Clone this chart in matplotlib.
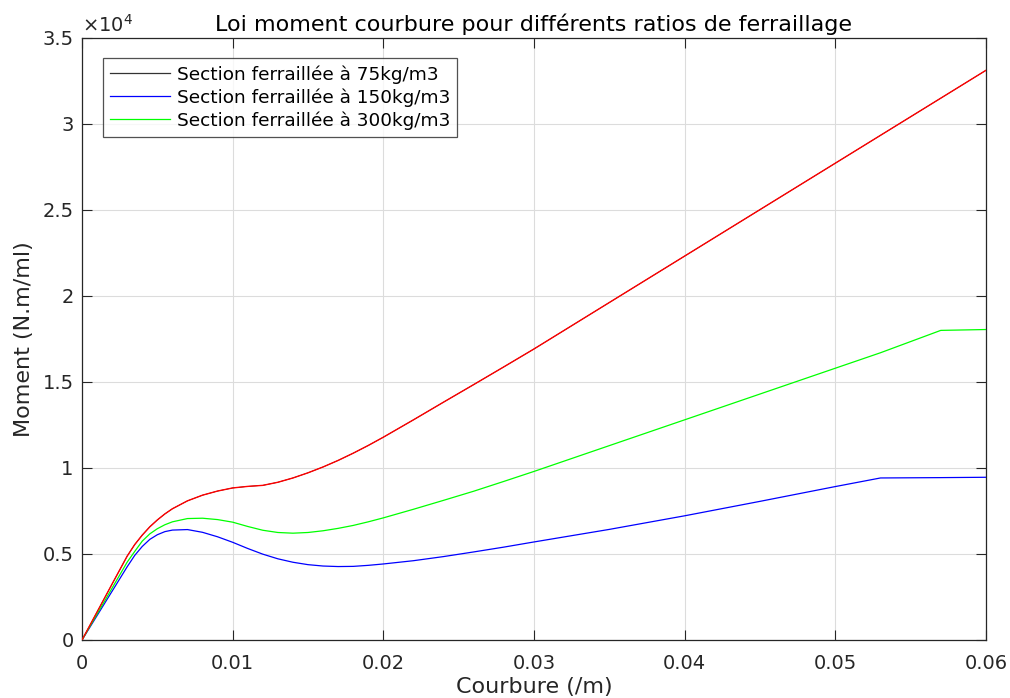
import matplotlib.pyplot as plt
from matplotlib.ticker import FuncFormatter
import numpy as np

# courbure (/m)
courbure = [0, 0.001, 0.002, 0.003, 0.0035, 0.004, 0.0045, 0.005, 0.0055, 0.006,
            0.007, 0.008, 0.009, 0.010, 0.011, 0.012, 0.013, 0.014, 0.015, 0.016,
            0.017, 0.018, 0.019, 0.020, 0.022, 0.024, 0.026, 0.028, 0.030, 0.035,
            0.040, 0.045, 0.050, 0.053, 0.057, 0.060]

# moments (N.m/ml)
m_75 = [0, 1630, 3260, 4880, 5550, 6100, 6580, 6980, 7330, 7630,
        8090, 8420, 8660, 8840, 8930, 8990, 9170, 9420, 9720, 10060,
        10440, 10860, 11310, 11790, 12800, 13830, 14850, 15880, 16920, 19620,
        22320, 25020, 27720, 29340, 31500, 33120]
m_150 = [0, 1420, 2840, 4260, 4920, 5440, 5850, 6120, 6300, 6390,
         6420, 6260, 6000, 5680, 5320, 4990, 4720, 4520, 4380, 4300,
         4270, 4280, 4340, 4420, 4610, 4850, 5120, 5400, 5700, 6430,
         7220, 8060, 8920, 9420, 9440, 9460]
m_300 = [0, 1510, 3020, 4530, 5150, 5750, 6170, 6470, 6700, 6870,
         7060, 7080, 7000, 6850, 6600, 6380, 6250, 6210, 6250, 6350,
         6490, 6660, 6870, 7100, 7600, 8120, 8650, 9220, 9800, 11300,
         12800, 14300, 15800, 16700, 18000, 18050]

labels = ['Section ferraillée à 75kg/m3', 'Section ferraillée à 150kg/m3',
          'Section ferraillée à 300kg/m3']

plt.rcParams['font.family'] = ['DejaVu Sans']

fig = plt.figure(figsize=(10.1, 6.98), dpi=100)
ax = fig.add_axes([0.0812, 0.0831, 0.8950, 0.8625])

# black curve lies under the red one
l1, = ax.plot(courbure, m_75, color='black', linewidth=0.5, zorder=2)
l2, = ax.plot(courbure, m_150, color='#0000ff', linewidth=0.9, zorder=3)
l3, = ax.plot(courbure, m_300, color='#00ff00', linewidth=0.9, zorder=3)
ax.plot(courbure, m_75, color='#ff0000', linewidth=1.0, zorder=4)

ax.set_xlim(0, 0.06)
ax.set_ylim(0, 35000)
ax.set_xticks(np.arange(0, 0.0601, 0.01))
ax.set_yticks(np.arange(0, 35001, 5000))
ax.xaxis.set_major_formatter(FuncFormatter(lambda v, p: '0' if v == 0 else f'{v:g}'))
ax.yaxis.set_major_formatter(FuncFormatter(lambda v, p: f'{v / 1e4:g}'))

ax.grid(True, color='#dcdcdc', linewidth=0.8)
ax.set_axisbelow(True)
ax.tick_params(direction='in', length=7, width=0.8, top=True, right=True,
               labelsize=14, colors='#262626', pad=6)
ax.tick_params(axis='x', pad=10)
for s in ax.spines.values():
    s.set_color('#262626')
    s.set_linewidth(0.9)

ax.text(0, 1.003, r'$\times10^{4}$', transform=ax.transAxes, fontsize=14,
        color='#262626', ha='left', va='bottom')

ax.set_title('Loi moment courbure pour différents ratios de ferraillage',
             fontsize=16, color='black', pad=5)
ax.set_xlabel('Courbure (/m)', fontsize=16, color='#262626', labelpad=3)
ax.set_ylabel('Moment (N.m/ml)', fontsize=16, color='#262626', labelpad=6)

leg = ax.legend([l1, l2, l3], labels, loc='upper left', bbox_to_anchor=(0.023, 0.967),
                fontsize=13.3, frameon=True, fancybox=False, handlelength=3.25,
                borderpad=0.4, labelspacing=0.25, handletextpad=0.35, borderaxespad=0)
leg.get_frame().set_edgecolor('#262626')
leg.get_frame().set_linewidth(0.9)
leg.get_lines()[0].set_linewidth(0.9)
leg.get_lines()[0].set_color('#333333')

fig.savefig('out.png', dpi=100)
